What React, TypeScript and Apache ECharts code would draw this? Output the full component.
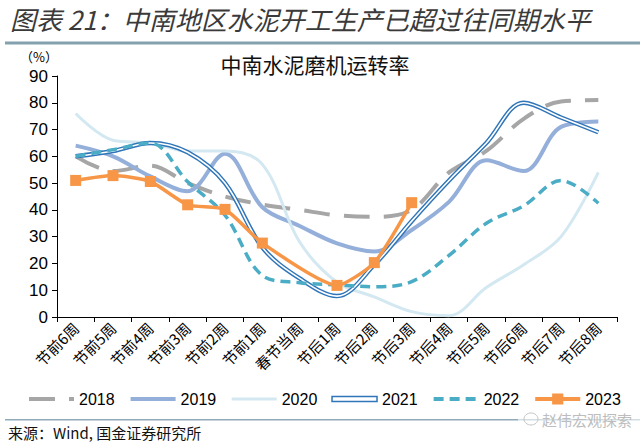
import React, { useEffect, useRef } from 'react';
import * as echarts from 'echarts';

const categories = ['节前6周', '节前5周', '节前4周', '节前3周', '节前2周', '节前1周', '春节当周', '节后1周', '节后2周', '节后3周', '节后4周', '节后5周', '节后6周', '节后7周', '节后8周'];

const s2018 = [60, 54.5, 56.5, 50, 45, 42, 40, 38, 37.4, 40, 54, 62, 74, 80.5, 81];
const s2019 = [64, 60, 52.5, 47, 61, 41, 34, 27.5, 24.5, 32.5, 43, 58.5, 54.5, 71, 73];
const s2020 = [76, 66, 65, 62, 62, 57, 28, 13, 7.5, 2, 0.5, 11, 19.5, 30, 54];
const s2021 = [60, 62, 65, 61.5, 50, 26, 14.4, 7.8, 19.5, 35.8, 51, 65, 80, 74.5, 69];
const s2022 = [60, 62.5, 65, 50.5, 38, 15.5, 12.8, 12, 11.3, 13.2, 23, 35, 41.5, 51, 42.5];
const s2023: (number | null)[] = [51, 52.8, 50.6, 41.9, 40.2, 27.6, null, 11.8, 20.3, 42.7, null, null, null, null, null];

const C2018 = '#A6A6A6';
const C2019 = '#94AFD9';
const C2020 = '#D3E8F1';
const C2021 = '#2F75B8';
const C2022 = '#4BACC6';
const C2023 = '#F79646';

const CJK = '"Noto Sans CJK SC", "Noto Sans", sans-serif';
const LAT = '"Liberation Sans", Arial, sans-serif';

export default function App() {
  const ref = useRef<HTMLDivElement>(null);
  useEffect(() => {
    const chart = echarts.init(ref.current!, null, { renderer: 'svg' });
    const SM = 0.35;
    const option: any = {
      animation: false,
      backgroundColor: '#ffffff',
      grid: { left: 57, right: 23, top: 76, bottom: 126, containLabel: false },
      xAxis: {
        type: 'category',
        data: categories,
        boundaryGap: true,
        axisLine: { lineStyle: { color: '#000', width: 1 } },
        axisTick: { show: true, length: 5, lineStyle: { color: '#000' } },
        axisLabel: { rotate: 45, fontSize: 15, fontFamily: CJK, color: '#000', margin: 8, interval: 0 },
        splitLine: { show: false },
      },
      yAxis: {
        type: 'value',
        min: 0,
        max: 90,
        interval: 10,
        axisLine: { show: true, lineStyle: { color: '#000', width: 1 } },
        axisTick: { show: true, length: 5, lineStyle: { color: '#000' } },
        axisLabel: { fontSize: 17, fontFamily: LAT, color: '#000', margin: 9 },
        splitLine: { show: false },
      },
      legend: {
        left: 27,
        top: 391,
        width: 610,
        padding: 0,
        itemWidth: 45,
        itemHeight: 14,
        itemGap: 14,
        itemStyle: { opacity: 0 },
        textStyle: { fontSize: 16, fontFamily: LAT, color: '#000' },
        data: [
          { name: '2018', lineStyle: { width: 4 } },
          { name: '2019', lineStyle: { width: 4 } },
          { name: '2020', lineStyle: { width: 3 } },
          {
            name: '2021',
            icon: 'path://M0,0H90V10H0Z',
            itemStyle: { color: '#ffffff', borderColor: C2021, borderWidth: 1.5, opacity: 1 },
          },
          { name: '2022', lineStyle: { width: 4 } },
          { name: '2023', lineStyle: { width: 4 }, itemStyle: { opacity: 1 } },
        ],
      },
      series: [
        {
          name: '2018', type: 'line', data: s2018, smooth: SM, symbol: 'none',
          lineStyle: { color: C2018, width: 4, type: [26, 14] }, itemStyle: { color: C2018 }, z: 2,
        },
        {
          name: '2019', type: 'line', data: s2019, smooth: SM, symbol: 'none',
          lineStyle: { color: C2019, width: 4 }, itemStyle: { color: C2019 }, z: 2,
        },
        {
          name: '2020', type: 'line', data: s2020, smooth: SM, symbol: 'none',
          lineStyle: { color: C2020, width: 3 }, itemStyle: { color: C2020 }, z: 2,
        },
        {
          name: '2021', type: 'line', data: s2021, smooth: SM, symbol: 'none',
          lineStyle: { color: C2021, width: 4.5 }, itemStyle: { color: C2021 }, z: 3,
        },
        {
          name: '2021inner', type: 'line', data: s2021, smooth: SM, symbol: 'none',
          lineStyle: { color: '#ffffff', width: 1.6 }, itemStyle: { color: '#ffffff' }, z: 3,
        },
        {
          name: '2022', type: 'line', data: s2022, smooth: SM, symbol: 'none',
          lineStyle: { color: C2022, width: 3.5, type: [10, 6] }, itemStyle: { color: C2022 }, z: 4,
        },
        {
          name: '2023', type: 'line', data: s2023, smooth: 0.2, connectNulls: true,
          symbol: 'rect', symbolSize: 11,
          lineStyle: { color: C2023, width: 3.5 }, itemStyle: { color: C2023 }, z: 5,
        },
      ],
      graphic: [
        {
          type: 'text', left: 10, top: 5,
          style: { text: '图表 21：中南地区水泥开工生产已超过往同期水平', font: 'italic 26px ' + CJK, fill: '#3a3a3a' },
        },
        { type: 'rect', shape: { x: 5, y: 41.5, width: 635, height: 3 }, style: { fill: '#84A2AD' } },
        {
          type: 'text', x: 315, y: 64,
          style: { text: '中南水泥磨机运转率', font: '21px ' + CJK, fill: '#111', textAlign: 'center', textVerticalAlign: 'middle' },
        },
        {
          type: 'text', x: 20, y: 56,
          style: { text: '（%）', font: '13px ' + CJK, fill: '#000', textAlign: 'left', textVerticalAlign: 'middle' },
        },
        { type: 'rect', shape: { x: 5, y: 419, width: 635, height: 1.5 }, style: { fill: '#8FAAB8' } },
        { type: 'rect', shape: { x: 518, y: 410, width: 122, height: 18 }, style: { fill: '#ffffff', opacity: 0.6 } },
        { type: 'ellipse', shape: { cx: 531, cy: 419, rx: 7, ry: 6 }, style: { fill: 'none', stroke: '#c4c4c4', lineWidth: 1 } },
        {
          type: 'text', x: 542, y: 419,
          style: { text: '赵伟宏观探索', font: '15px ' + CJK, fill: '#bdbdbd', textAlign: 'left', textVerticalAlign: 'middle' },
        },
        {
          type: 'text', x: 8, y: 432,
          style: { text: '来源：Wind, 国金证券研究所', font: '15px ' + CJK, fill: '#111', textAlign: 'left', textVerticalAlign: 'middle' },
        },
      ],
    };
    chart.setOption(option);
    return () => chart.dispose();
  }, []);
  return <div ref={ref} style={{ position: 'fixed', left: 0, top: 0, width: 640, height: 443 }} />;
}
